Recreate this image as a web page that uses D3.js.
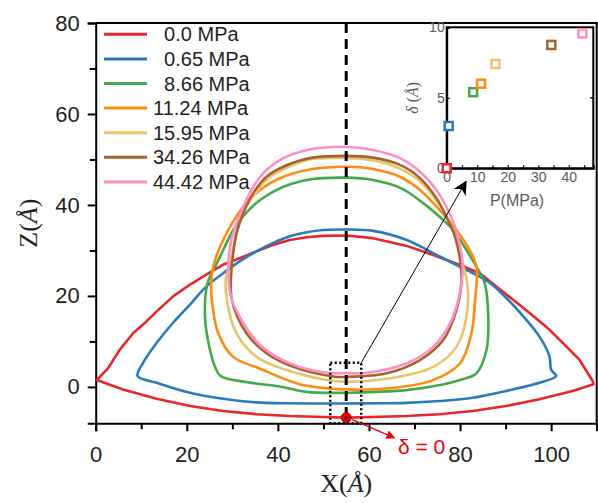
<!DOCTYPE html>
<html>
<head>
<meta charset="utf-8">
<script src="https://cdn.jsdelivr.net/npm/d3@7.9.0/dist/d3.min.js"></script>
<style>
  html, body { margin: 0; padding: 0; background: #fff; }
  svg { display: block; }
</style>
</head>
<body>
<div id="chart"></div>
<script>
// droplet cross-sections (X, Z in Å), one closed loop per pressure
const loop_0_0 = [[0.2,1.5],[2.8,4.2],[5.3,8.2],[8.3,11.9],[10.4,13.7],[13.4,16.6],[17.0,19.9],[20.7,22.5],[24.3,24.7],[28.0,26.9],[31.6,28.3],[35.3,29.8],[38.9,31.2],[42.6,32.3],[46.3,32.9],[49.9,33.2],[55,33.3],[60.9,32.7],[68.3,31.0],[74.1,29.0],[80.0,26.8],[84.3,25.0],[87.9,22.1],[91.6,19.2],[95.2,16.3],[99.6,12.6],[103.3,8.9],[106.2,6.0],[109.1,1.3],[109.3,0.6],[104.7,-0.9],[97.4,-2.7],[90.1,-4.2],[82.8,-5.3],[75.5,-6.0],[68.2,-6.4],[60.9,-6.6],[55,-6.75],[49.9,-6.6],[42.6,-6.4],[35.3,-6.0],[28.0,-5.3],[20.7,-4.2],[13.4,-2.6],[6.0,-0.55]];
const loop_0_65 = [[9.2,2.4],[10.4,5.3],[13.4,9.7],[17.0,14.1],[20.7,18.1],[24.3,22.1],[28.0,25.0],[31.6,27.6],[35.3,29.8],[38.9,31.6],[42.6,33.1],[46.3,34.0],[49.9,34.5],[55,34.6],[60.9,34.3],[68.3,32.3],[74.1,29.4],[80.0,26.4],[82.8,25.0],[86.5,22.9],[90.1,19.6],[93.8,15.6],[97.4,11.1],[99.6,6.8],[100,3.8],[101.1,2.4],[97.4,0.9],[90.1,-0.9],[82.8,-2.4],[75.5,-3.1],[68.2,-3.5],[60.9,-3.6],[55,-3.65],[42.6,-3.6],[35.3,-3.4],[28.0,-2.6],[20.7,-1.3],[13.4,0.9]];
const loop_8_66 = [[27.4,2.4],[26.2,4.4],[25.1,8.1],[24.0,15.4],[24.6,23.0],[26.2,26.4],[28.0,30.1],[30.2,34.5],[32.7,37.9],[36.1,41.1],[41.2,44.0],[47.0,45.6],[55,46.0],[60.9,45.5],[66.8,43.8],[71.9,40.4],[75.5,37.4],[78.5,34.5],[81.4,30.1],[83.6,26.4],[85.4,22.8],[86.2,15.4],[85.8,8.1],[83.6,3.0],[80.0,1.5],[76.5,0.6],[68.2,-0.7],[60.9,-1.1],[55,-1.3],[46.3,-1.1],[41.0,0.0],[33.5,1.0]];
const loop_11_24 = [[25.5,19.1],[25.4,23.5],[25.8,26.4],[27.3,30.8],[29.5,35.2],[32.4,39.6],[36.1,43.3],[41.2,46.2],[47.0,47.8],[55,48.4],[60.9,47.9],[66.8,46.2],[71.2,43.3],[75.5,38.9],[79.2,34.5],[82.1,30.1],[83.6,26.4],[83.3,19.1],[82.5,11.8],[80.0,5.2],[74.1,1.5],[64.5,-0.3],[55,-0.55],[44.8,0.6],[36.1,4.0],[30.2,6.6],[26.9,11.8]];
const loop_15_95 = [[28.8,19.1],[28.6,24.0],[29.5,27.2],[30.6,32.1],[32.4,38.4],[34.6,41.9],[37.5,45.6],[41.2,47.8],[47.0,50.0],[55,50.3],[60.9,49.8],[66.8,48.0],[71.2,45.2],[74.8,41.0],[77.4,36.8],[79.2,32.3],[80.7,26.4],[81.6,22.8],[81.4,15.4],[79.2,8.8],[74.1,4.4],[64.6,1.9],[55,1.1],[50.7,1.5],[41.9,3.7],[35.3,6.6],[30.9,11.8]];
const loop_34_26 = [[29.9,19.1],[29.8,25.7],[30.2,29.4],[30.9,33.8],[32.4,38.2],[34.6,42.6],[37.5,46.2],[41.2,48.4],[47.0,50.3],[55,50.8],[60.9,50.4],[66.8,48.8],[71.2,45.9],[74.8,41.5],[77.0,37.4],[78.9,33.0],[80.0,27.9],[80.3,22.8],[79.2,16.9],[76.3,10.3],[71.2,5.9],[63.9,3.0],[55,2.2],[52.2,2.3],[43.4,4.4],[37.5,7.4],[33.1,11.8]];
const loop_44_42 = [[29.8,19.5],[29.1,25.7],[29.5,30.8],[30.6,35.2],[32.4,39.6],[34.6,44.0],[37.5,47.7],[41.2,50.3],[47.0,52.2],[55,52.8],[60.9,52.1],[66.8,50.3],[71.2,47.3],[74.8,43.3],[77.0,39.6],[78.9,35.2],[80.0,30.8],[80.6,26.4],[79.6,19.1],[77.8,14.0],[74.1,8.8],[68.3,5.2],[59.5,3.1],[55,3.0],[50.7,3.1],[44.8,4.4],[39.7,6.6],[35.7,9.6],[32.4,14.0]];

const loops = [loop_0_0, loop_0_65, loop_8_66, loop_11_24, loop_15_95, loop_34_26, loop_44_42];
const legendLabels = ['\u20070.0 MPa', '\u20070.65 MPa', '\u20078.66 MPa', '11.24 MPa', '15.95 MPa', '34.26 MPa', '44.42 MPa'];
const colors = ['#e8262b', '#2a7bbd', '#45a84a', '#ff8b12', '#e8c46c', '#a5632f', '#ff8ec4'];

// inset: droplet lift-off delta vs pressure
const pressures = [0, 0.65, 8.66, 11.24, 15.95, 34.26, 44.42];
const deltas = [0, 3.0, 5.4, 6.0, 7.4, 8.75, 9.57];

const xTicks = [0, 20, 40, 60, 80, 100];
const yTicks = [0, 20, 40, 60, 80];
const insetXTicks = [0, 10, 20, 30, 40];
const insetYTicks = [0, 5, 10];

const W = 598, H = 503;
const svg = d3.select('#chart').append('svg').attr('width', W).attr('height', H);

const x = d3.scaleLinear().domain([0, 110]).range([95.7, 596.7]);
const y = d3.scaleLinear().domain([-8, 80]).range([423.3, 23]);

const ink = '#231f20';
const sans = 'Liberation Sans, Arial, sans-serif';
const serif = 'Liberation Serif, Times New Roman, serif';

// frame (top and right)
svg.append('path')
  .attr('d', `M${x(0)},${y(80)}H${x(110)}V${y(-8)}`)
  .attr('fill', 'none').attr('stroke', '#000').attr('stroke-width', 2);

// axes
const xAxis = d3.axisBottom(x)
  .tickValues(d3.range(0, 111, 10))
  .tickFormat(d => xTicks.includes(d) ? d : '')
  .tickSize(8).tickPadding(15);
const gx = svg.append('g').attr('transform', `translate(0,${y(-8)})`).call(xAxis);

const yAxis = d3.axisLeft(y)
  .tickValues(d3.range(0, 81, 10))
  .tickFormat(d => yTicks.includes(d) ? d : '')
  .tickSize(8).tickPadding(8);
const gy = svg.append('g').attr('transform', `translate(${x(0)},0)`).call(yAxis);

[gx, gy].forEach(g => {
  g.select('.domain').attr('stroke', '#000').attr('stroke-width', 2);
  g.selectAll('.tick line').attr('stroke', '#000').attr('stroke-width', 2);
  g.selectAll('.tick text').attr('fill', ink).style('font-family', sans).style('font-size', '22px');
});
gx.selectAll('.tick')
  .filter(d => !xTicks.includes(d))
  .select('line').attr('y2', 6);
gy.selectAll('.tick')
  .filter(d => !yTicks.includes(d))
  .select('line').attr('x2', -6);

// axis titles
const xt = svg.append('text')
  .attr('x', (x(0) + x(110)) / 2).attr('y', 492)
  .attr('text-anchor', 'middle')
  .style('font-family', serif).style('font-size', '26px').attr('fill', ink);
xt.append('tspan').text('X(');
xt.append('tspan').style('font-style', 'italic').text('Å');
xt.append('tspan').text(')');

const yt = svg.append('text')
  .attr('transform', `translate(37,${(y(-8) + y(80)) / 2}) rotate(-90)`)
  .attr('text-anchor', 'middle')
  .style('font-family', serif).style('font-size', '26px').attr('fill', ink);
yt.append('tspan').text('Z(');
yt.append('tspan').style('font-style', 'italic').text('Å');
yt.append('tspan').text(')');

// droplet outlines
const line = d3.line()
  .x(d => x(d[0])).y(d => y(d[1]));

svg.append('g').selectAll('path')
  .data(loops)
  .join('path')
  .attr('d', (d, i) => line.curve(i === 0 ? d3.curveLinearClosed : d3.curveCatmullRomClosed.alpha(0.5))(d))
  .attr('fill', 'none')
  .attr('stroke', (d, i) => colors[i])
  .attr('stroke-width', 2.6)
  .attr('stroke-linejoin', 'round');

// symmetry axis
svg.append('line')
  .attr('x1', x(55)).attr('x2', x(55))
  .attr('y1', y(80)).attr('y2', y(-8))
  .attr('stroke', '#000').attr('stroke-width', 3)
  .attr('stroke-dasharray', '10,6');

// dotted zoom box
svg.append('rect')
  .attr('x', x(51.5)).attr('y', y(5.3))
  .attr('width', x(58.3) - x(51.5)).attr('height', y(-8) - y(5.3))
  .attr('fill', 'none').attr('stroke', '#000').attr('stroke-width', 2.5)
  .attr('stroke-dasharray', '2,2.5');

// delta = 0 marker
const defs = svg.append('defs');
defs.append('marker').attr('id', 'ahRed')
  .attr('viewBox', '0 0 10 10').attr('refX', 9).attr('refY', 5)
  .attr('markerWidth', 9).attr('markerHeight', 9).attr('markerUnits', 'userSpaceOnUse')
  .attr('orient', 'auto')
  .append('path').attr('d', 'M0,0L10,5L0,10z').attr('fill', '#e8000b');
defs.append('marker').attr('id', 'ahBlack')
  .attr('viewBox', '0 0 10 10').attr('refX', 9).attr('refY', 5)
  .attr('markerWidth', 14).attr('markerHeight', 14).attr('markerUnits', 'userSpaceOnUse')
  .attr('orient', 'auto')
  .append('path').attr('d', 'M0,0L10,5L0,10L3,5z').attr('fill', '#000');

svg.append('line')
  .attr('x1', x(56.3)).attr('y1', y(-7.2))
  .attr('x2', x(65.6)).attr('y2', y(-11.2))
  .attr('stroke', '#e8000b').attr('stroke-width', 1.2)
  .attr('marker-end', 'url(#ahRed)');
svg.append('circle')
  .attr('cx', x(55)).attr('cy', y(-6.75)).attr('r', 5)
  .attr('fill', '#e8000b').attr('stroke', '#b00000').attr('stroke-width', 1);
svg.append('circle')
  .attr('cx', x(55)).attr('cy', y(-6.75)).attr('r', 1.6)
  .attr('fill', '#300');
svg.append('text')
  .attr('x', 398).attr('y', 454)
  .style('font-family', sans).style('font-size', '21px')
  .attr('fill', '#e8000b')
  .text('δ = 0');

// legend
const legend = svg.append('g');
legendLabels.forEach((lab, i) => {
  const ly = 34.3 + i * 24.6;
  legend.append('line')
    .attr('x1', 104).attr('x2', 147).attr('y1', ly).attr('y2', ly)
    .attr('stroke', colors[i]).attr('stroke-width', 3);
  legend.append('text')
    .attr('x', 153).attr('y', ly).attr('dy', '0.35em')
    .style('font-family', sans).style('font-size', '20px')
    .attr('fill', ink)
    .text(lab);
});

// inset
const ix = d3.scaleLinear().domain([0, 48]).range([446.7, 593.3]);
const iy = d3.scaleLinear().domain([0, 10]).range([168.3, 27.3]);
const inset = svg.append('g');
inset.append('rect')
  .attr('x', ix(0)).attr('y', iy(10))
  .attr('width', ix(48) - ix(0)).attr('height', iy(0) - iy(10))
  .attr('fill', '#fff').attr('stroke', '#000').attr('stroke-width', 2);

const grey = '#5a5a5a';
const ixa = inset.append('g').attr('transform', `translate(0,${iy(0)})`)
  .call(d3.axisBottom(ix).tickValues(d3.range(0, 46, 5))
    .tickFormat(d => insetXTicks.includes(d) ? d : '')
    .tickSize(-3).tickPadding(4));
const iya = inset.append('g').attr('transform', `translate(${ix(0)},0)`)
  .call(d3.axisLeft(iy).tickValues(insetYTicks).tickSize(-3).tickPadding(2));
inset.append('line')
  .attr('x1', ix(48)).attr('x2', ix(48) - 3)
  .attr('y1', iy(5)).attr('y2', iy(5))
  .attr('stroke', '#000').attr('stroke-width', 1.5);
[ixa, iya].forEach(g => {
  g.select('.domain').attr('stroke', '#000').attr('stroke-width', 2);
  g.selectAll('.tick line').attr('stroke', '#000').attr('stroke-width', 1.2);
  g.selectAll('.tick text').attr('fill', grey).style('font-family', sans).style('font-size', '14px');
});

inset.append('text')
  .attr('x', (ix(0) + ix(48)) / 2 - 3).attr('y', 206)
  .attr('text-anchor', 'middle')
  .style('font-family', sans).style('font-size', '16px').attr('fill', grey)
  .text('P(MPa)');
const iyt = inset.append('text')
  .attr('transform', `translate(418,${(iy(0) + iy(10)) / 2}) rotate(-90)`)
  .attr('text-anchor', 'middle')
  .style('font-family', serif).style('font-size', '16px').attr('fill', grey);
iyt.append('tspan').style('font-style', 'italic').text('δ');
iyt.append('tspan').text(' (');
iyt.append('tspan').style('font-style', 'italic').text('Å');
iyt.append('tspan').text(')');

inset.append('g').selectAll('rect')
  .data(pressures)
  .join('rect')
  .attr('x', (d, i) => ix(d) - 4)
  .attr('y', (d, i) => iy(deltas[i]) - 4)
  .attr('width', 8).attr('height', 8)
  .attr('fill', '#fff')
  .attr('stroke', (d, i) => colors[i])
  .attr('stroke-width', 2.5);

// pointer from the dotted box to the inset
svg.append('line')
  .attr('x1', x(58.3)).attr('y1', y(5.3))
  .attr('x2', ix(6.3)).attr('y2', iy(-0.95))
  .attr('stroke', '#000').attr('stroke-width', 1)
  .attr('marker-end', 'url(#ahBlack)');
</script>
</body>
</html>
